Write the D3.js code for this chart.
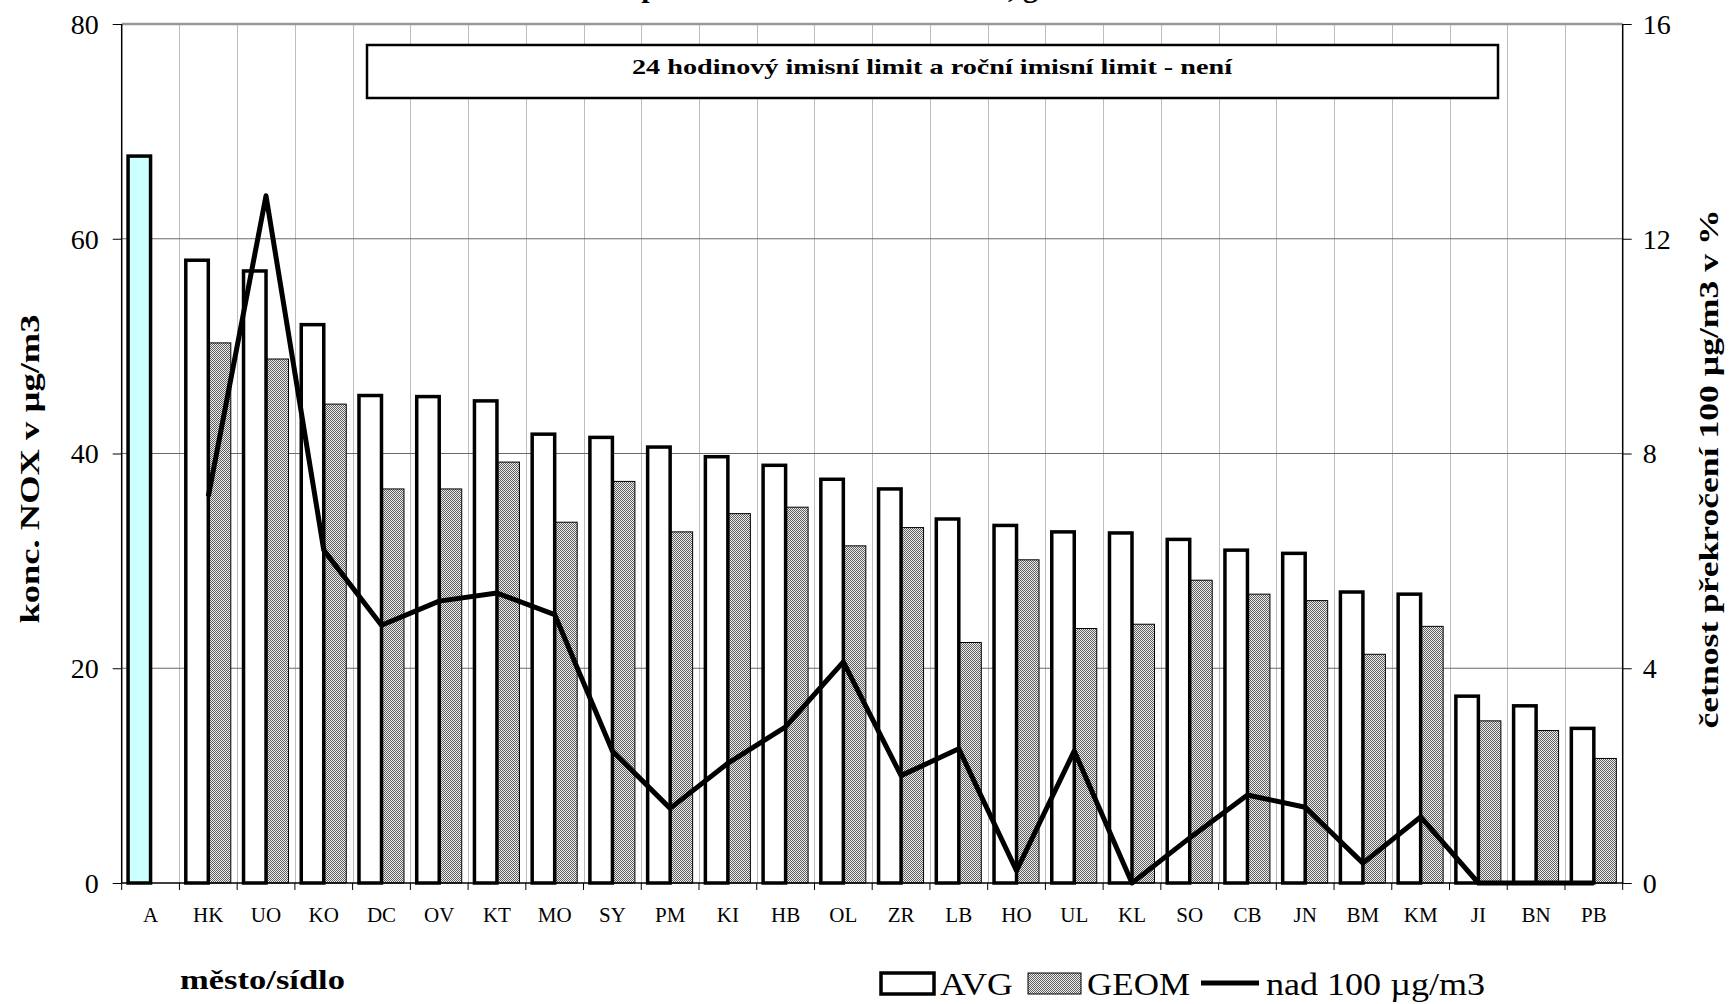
<!DOCTYPE html>
<html>
<head>
<meta charset="utf-8">
<script src="https://cdn.jsdelivr.net/npm/d3@7"></script>
<style>
html,body{margin:0;padding:0;background:#fff;}
svg{display:block;}
text{font-family:"Liberation Serif","Times New Roman",serif;fill:#000;}
</style>
</head>
<body>
<svg id="chart" width="1731" height="1004"></svg>
<script>
// ---- data ----
const categories = ["A","HK","UO","KO","DC","OV","KT","MO","SY","PM","KI","HB","OL","ZR","LB","HO","UL","KL","SO","CB","JN","BM","KM","JI","BN","PB"];
const avgValues  = [67.7,58.0,57.0,52.0,45.4,45.3,44.9,41.8,41.5,40.6,39.7,38.9,37.6,36.7,33.9,33.3,32.7,32.6,32.0,31.0,30.7,27.1,26.9,17.4,16.5,14.4];
const geomValues = [null,50.3,48.8,44.6,36.7,36.7,39.2,33.6,37.4,32.7,34.4,35.0,31.4,33.1,22.4,30.1,23.7,24.1,28.2,26.9,26.3,21.3,23.9,15.1,14.2,11.6];
const exceedValues = [null,7.2,12.8,6.2,4.8,5.25,5.4,5.0,2.46,1.39,2.23,2.91,4.12,2.0,2.5,0.23,2.46,0,0.84,1.64,1.41,0.37,1.23,0,0,0];
const seriesNames = ["AVG","GEOM"];
const leftTicks = [0,20,40,60,80];
const rightTicks = [0,4,8,12,16];
const titleText = "Roční průměrné koncentrace NOX, geom. střed";
const noteText = "24 hodinový imisní limit  a roční imisní limit - není";
const yLeftTitle = "konc. NOX v µg/m3";
const yRightTitle = "četnost překročení 100 µg/m3 v %";
const xTitle = "město/sídlo";
const legendLabels = ["AVG","GEOM","nad 100 µg/m3"];

// ---- layout ----
const svg = d3.select("#chart");
const L = 121.7, R = 1622.7, T = 24, B = 883;

const x = d3.scaleBand().domain(categories).range([L, R]).paddingInner(0).paddingOuter(0);
const xs = d3.scaleBand().domain(seriesNames).range([0, x.bandwidth()]).paddingInner(0).paddingOuter(0.283);
const yL = d3.scaleLinear().domain([0, 80]).range([B, T]);
const yR = d3.scaleLinear().domain([0, 16]).range([B, T]);

function fit(sel, w){ sel.attr("textLength", w).attr("lengthAdjust","spacingAndGlyphs"); return sel; }

// pattern
const defs = svg.append("defs");
const pat = defs.append("pattern").attr("id","geomPat").attr("width",2).attr("height",2).attr("patternUnits","userSpaceOnUse");
pat.append("rect").attr("width",2).attr("height",2).attr("fill","#ececec");
pat.append("rect").attr("x",0).attr("y",0).attr("width",1).attr("height",1).attr("fill","#606060");
pat.append("rect").attr("x",1).attr("y",1).attr("width",1).attr("height",1).attr("fill","#606060");

// title (clipped at top, as in the reference)
svg.append("text").attr("x", 865).attr("y", -3).attr("text-anchor","middle")
  .attr("font-size", 30).attr("font-weight","bold").text(titleText);

// vertical gridlines at category boundaries
svg.append("g").selectAll("line").data(categories.slice(1)).join("line")
  .attr("x1", d => Math.round(x(d)) + 0.5).attr("x2", d => Math.round(x(d)) + 0.5)
  .attr("y1", T).attr("y2", B).attr("stroke","#bdbdbd").attr("stroke-width",1);

// horizontal gridlines
svg.append("g").selectAll("line").data(leftTicks.filter(d => d > 0 && d < 80)).join("line")
  .attr("x1", L).attr("x2", R).attr("y1", d => yL(d)).attr("y2", d => yL(d))
  .attr("stroke","#6a6a6a").attr("stroke-width",1);
// top border line
svg.append("line").attr("x1", L).attr("x2", R).attr("y1", yL(80)).attr("y2", yL(80))
  .attr("stroke","#999").attr("stroke-width",2.5);

// annotation box
svg.append("rect").attr("x", 367).attr("y", 45).attr("width", 1131).attr("height", 53)
  .attr("fill","#fff").attr("stroke","#000").attr("stroke-width",2.5);
fit(svg.append("text").attr("x", 932).attr("y", 74).attr("text-anchor","middle")
  .attr("font-size", 21).attr("font-weight","bold").text(noteText), 600);

// bars
const rows = categories.map((c,i) => ({c, avg: avgValues[i], geom: geomValues[i], ex: exceedValues[i]}));
svg.append("g").selectAll("rect").data(rows.filter(d => d.geom != null)).join("rect")
  .attr("x", d => x(d.c) + xs("GEOM")).attr("width", xs.bandwidth())
  .attr("y", d => yL(d.geom)).attr("height", d => B - yL(d.geom))
  .attr("fill","url(#geomPat)").attr("stroke","#000").attr("stroke-width",1);
svg.append("g").selectAll("rect").data(rows).join("rect")
  .attr("x", d => x(d.c) + xs("AVG")).attr("width", xs.bandwidth())
  .attr("y", d => yL(d.avg)).attr("height", d => B - yL(d.avg))
  .attr("fill", d => d.c === "A" ? "#ccffff" : "#fff").attr("stroke","#000").attr("stroke-width",3.5);

// line
const line = d3.line().defined(d => d.ex != null)
  .x(d => x(d.c) + x.bandwidth()/2).y(d => yR(d.ex));
svg.append("path").datum(rows).attr("d", line).attr("fill","none")
  .attr("stroke","#000").attr("stroke-width",5).attr("stroke-linejoin","round");

// axes lines
svg.append("line").attr("x1", L).attr("x2", L).attr("y1", T).attr("y2", B).attr("stroke","#000").attr("stroke-width",1.5);
svg.append("line").attr("x1", R).attr("x2", R).attr("y1", T).attr("y2", B).attr("stroke","#000").attr("stroke-width",1.5);
svg.append("line").attr("x1", L).attr("x2", R).attr("y1", B).attr("y2", B).attr("stroke","#000").attr("stroke-width",1.5);

// left axis
const gl = svg.append("g").attr("transform", `translate(${L},0)`)
  .call(d3.axisLeft(yL).tickValues(leftTicks).tickSize(9).tickPadding(14));
gl.select(".domain").remove();
gl.selectAll(".tick line").attr("stroke","#000");
gl.selectAll(".tick text").attr("font-size", 28).attr("font-family","Liberation Serif").attr("dy","0.33em");

// right axis
const gr = svg.append("g").attr("transform", `translate(${R},0)`)
  .call(d3.axisRight(yR).tickValues(rightTicks).tickSize(9).tickPadding(11));
gr.select(".domain").remove();
gr.selectAll(".tick line").attr("stroke","#000");
gr.selectAll(".tick text").attr("font-size", 28).attr("font-family","Liberation Serif").attr("dy","0.33em");

// bottom boundary ticks
svg.append("g").selectAll("line").data(categories).join("line")
  .attr("x1", d => x(d)).attr("x2", d => x(d)).attr("y1", B).attr("y2", B + 7)
  .attr("stroke","#000").attr("stroke-width",1);
svg.append("line").attr("x1", R).attr("x2", R).attr("y1", B).attr("y2", B + 7).attr("stroke","#000");

// category labels
const gb = svg.append("g").attr("transform", `translate(0,${B})`)
  .call(d3.axisBottom(x).tickSize(0).tickPadding(24));
gb.select(".domain").remove();
gb.selectAll(".tick text").attr("font-size", 21).attr("font-family","Liberation Serif");

// axis titles
fit(svg.append("text").attr("transform", "translate(39,469) rotate(-90)").attr("text-anchor","middle")
  .attr("font-size", 27).attr("font-weight","bold").text(yLeftTitle), 309);
fit(svg.append("text").attr("transform", "translate(1718,469) rotate(-90)").attr("text-anchor","middle")
  .attr("font-size", 27).attr("font-weight","bold").text(yRightTitle), 519);
fit(svg.append("text").attr("x", 180).attr("y", 989).attr("font-size", 27).attr("font-weight","bold").text(xTitle), 165);

// legend
const lg = svg.append("g");
lg.append("rect").attr("x", 881).attr("y", 973).attr("width", 53).attr("height", 21)
  .attr("fill","#fff").attr("stroke","#000").attr("stroke-width",3.5);
fit(lg.append("text").attr("x", 940).attr("y", 995).attr("font-size", 31).text(legendLabels[0]), 73);
lg.append("rect").attr("x", 1028).attr("y", 973).attr("width", 53).attr("height", 21)
  .attr("fill","url(#geomPat)").attr("stroke","#000").attr("stroke-width",1);
fit(lg.append("text").attr("x", 1087).attr("y", 995).attr("font-size", 31).text(legendLabels[1]), 103);
lg.append("line").attr("x1", 1201).attr("x2", 1259).attr("y1", 983).attr("y2", 983)
  .attr("stroke","#000").attr("stroke-width",5);
fit(lg.append("text").attr("x", 1266).attr("y", 995).attr("font-size", 31).text(legendLabels[2]), 219);
</script>
</body>
</html>
